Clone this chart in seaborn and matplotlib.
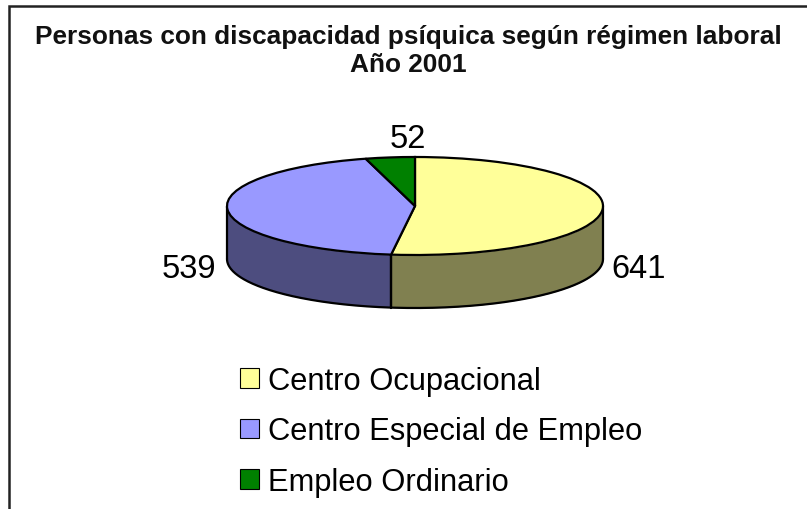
import numpy as np
import matplotlib
matplotlib.use("Agg")
import matplotlib.pyplot as plt
import seaborn as sns

categories = ["Centro Ocupacional", "Centro Especial de Empleo", "Empleo Ordinario"]
values = [641, 539, 52]
top_colors = ["#FFFF99", "#9999FF", "#008000"]
side_colors = ["#808050", "#4D4D7F", "#004000"]
title_lines = "Personas con discapacidad psíquica según régimen laboral\nAño 2001"

sns.set_theme(style="white")
plt.rcParams["font.family"] = ["Liberation Sans", "DejaVu Sans"]

W, H = 807, 510
CX, CY, RX, RY, DEPTH = 415, 207, 188, 49, 53
K = RX / RY  # y data units per pixel, so a circular pie looks elliptical

fig = plt.figure(figsize=(W / 100, H / 100), dpi=100, facecolor="white")
ax = fig.add_axes([0, 0, 1, 1])

def py(p):
    return (H - p) * K

# side walls of the disc, from the slices' angular extents
fr = np.cumsum([0] + values) / sum(values) * 2 * np.pi
for i, col in enumerate(side_colors):
    a, b = max(fr[i], np.pi / 2), min(fr[i + 1], 3 * np.pi / 2)
    if a >= b:
        continue
    t = np.linspace(a, b, 200)
    x = CX + RX * np.sin(t)
    y = py(CY) + RX * np.cos(t)
    ax.fill_between(x, y, y - DEPTH * K, color=col, lw=0, zorder=1)
    ax.plot(x, y - DEPTH * K, color="black", lw=1.6, zorder=2)
    for xe, ye in [(x[0], y[0]), (x[-1], y[-1])]:
        ax.plot([xe, xe], [ye, ye - DEPTH * K], color="black", lw=1.6, zorder=2)

wedges, _ = ax.pie(values, colors=top_colors, center=(CX, py(CY)), radius=RX,
                   startangle=90, counterclock=False,
                   wedgeprops=dict(edgecolor="black", linewidth=1.6, zorder=3))
ax.set_aspect("auto")
ax.set_xlim(0, W)
ax.set_ylim(0, H * K)
ax.axis("off")

# frame: only the top and left edges fall inside the picture
ax.plot([9, 9, W], [py(H), py(7), py(7)], color="#222222", lw=1.8, zorder=5,
        clip_on=False, solid_joinstyle="miter")

ax.text(408, py(51), title_lines, ha="center", va="center", fontsize=18.9,
        fontweight="bold", color="#111111", linespacing=1.24)

label_pos = [(639, 270), (189, 270), (408, 140)]
for v, (lx, ly) in zip(values, label_pos):
    ax.text(lx, py(ly), str(v), ha="center", va="center", fontsize=23.5, color="black")

leg = ax.legend(wedges, categories, loc="upper left", bbox_to_anchor=(240 / W, 1 - 367 / H),
                frameon=False, fontsize=22.2, handlelength=0.62, handleheight=0.62,
                handletextpad=0.28, labelspacing=0.66, borderpad=0, borderaxespad=0,
                labelcolor="black")
for h in leg.legend_handles:
    h.set_linewidth(0.8)

fig.savefig("out.png", dpi=100, facecolor="white")
